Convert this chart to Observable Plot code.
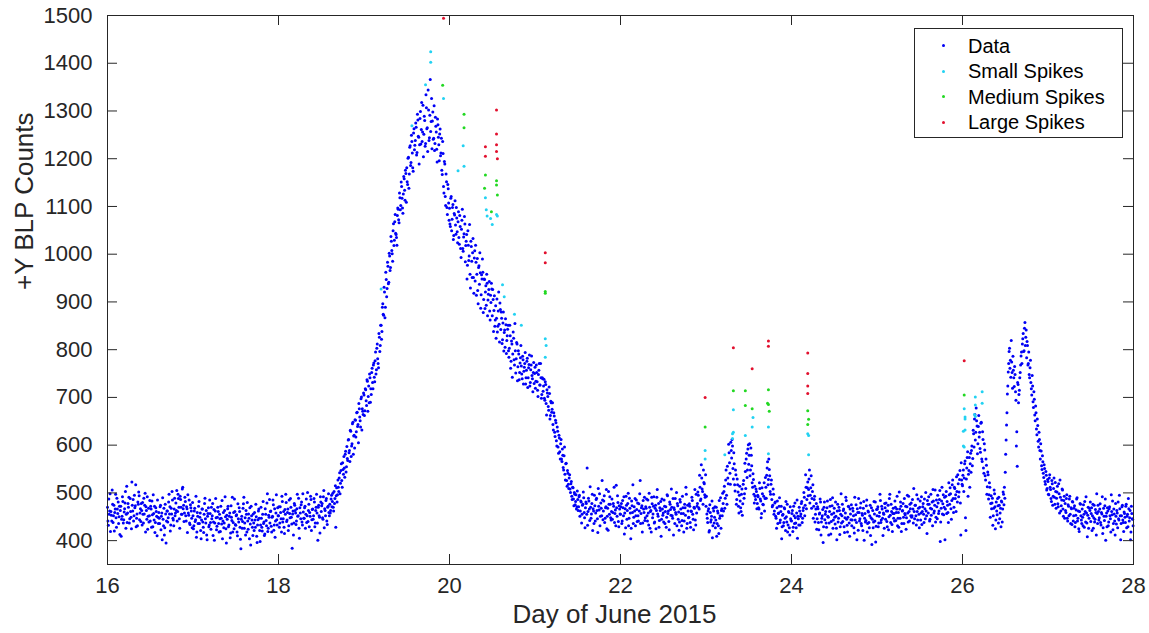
<!DOCTYPE html>
<html><head><meta charset="utf-8">
<script src="https://cdn.jsdelivr.net/npm/d3@7"></script>
<script src="https://cdn.jsdelivr.net/npm/@observablehq/plot@0.6"></script>
<style>
body{margin:0;background:#fff;}
#wrap{position:relative;width:1149px;height:633px;font-family:"Liberation Sans",Arial,Helvetica,sans-serif;}
#legend{position:absolute;left:914px;top:28px;width:207px;height:108px;border:1px solid #262626;background:#fff;color:#000;font-size:20px;}
.item{position:absolute;left:0;height:24px;line-height:24px;white-space:nowrap;}
.item .m{position:absolute;left:27px;top:10.5px;width:3px;height:3px;border-radius:50%;}
.item .t{position:absolute;left:53px;top:0;}
</style></head><body><div id="wrap"></div>
<script>
// ---- series names / colours / ticks ----
const seriesNames = ["Data", "Small Spikes", "Medium Spikes", "Large Spikes"];
const seriesColors = ["#0000f5", "#22d2f2", "#22d822", "#e2102e"];
const xTicks = [16, 18, 20, 22, 24, 26, 28];
const yTicks = [400, 500, 600, 700, 800, 900, 1000, 1100, 1200, 1300, 1400, 1500];
const xTitle = "Day of June 2015";
const yTitle = "+Y BLP Counts";

// ---- +Y BLP counts, two interleaved sample runs of 100 per day ----
const day16 = [470,432,455,498,461,441,476,452,420,466, 448,489,457,436,472,463,409,451,482,444,
  467,503,455,438,478,491,446,461,425,474, 486,452,469,517,447,431,476,494,458,440,
  463,480,437,456,499,471,445,424,468,452, 441,466,483,429,457,472,438,461,410,449,
  459,436,474,451,402,445,468,427,456,441, 462,448,497,471,433,456,485,443,466,452,
  479,505,461,488,446,493,470,455,512,474, 458,482,441,467,496,453,437,475,462,427];
const day16b = [441,487,462,419,453,506,438,474,459,497, 428,466,481,450,413,472,445,492,437,460,
  479,426,514,458,470,437,488,449,523,462, 441,495,473,429,456,481,502,444,467,478,
  433,455,489,474,418,463,492,451,439,484, 472,428,454,496,443,417,469,451,485,436,
  447,471,423,458,490,431,412,476,395,462, 439,481,456,420,468,503,447,431,489,458,
  463,441,497,470,426,486,455,508,467,440, 491,452,471,417,458,485,434,469,447,480];
const day17 = [452,431,468,444,407,459,436,482,449,421, 443,466,428,455,489,437,412,451,469,433,
  457,424,446,478,439,401,462,448,430,470, 436,455,419,447,484,441,427,463,450,395,
  445,472,433,458,416,449,491,438,425,461, 432,454,410,446,469,428,383,451,440,477,
  426,448,463,418,441,456,404,435,472,443, 411,437,459,428,450,396,444,466,421,433,
  447,420,482,439,414,455,431,498,426,449, 437,462,418,451,475,433,407,458,444,469];
const day17b = [425,462,440,493,418,451,472,436,458,404, 466,439,417,478,446,463,402,457,429,485,
  438,470,452,411,465,437,488,423,449,461, 418,446,472,435,404,459,437,492,425,453,
  467,429,451,406,473,442,418,459,487,434, 452,418,477,439,461,403,445,426,468,491,
  437,412,455,480,424,447,469,391,452,428, 456,421,443,476,409,433,462,447,398,470,
  428,455,436,411,467,442,479,419,453,486, 461,430,449,485,422,467,441,496,433,452];
const day18 = [452,428,471,446,493,439,461,415,455,480, 443,466,431,457,488,449,384,462,437,474,
  458,441,497,452,426,469,446,481,433,460, 447,472,455,438,501,463,429,451,486,444,
  466,452,481,437,470,458,401,474,449,492, 461,478,445,505,467,452,488,434,472,459,
  476,463,495,482,470,503,488,428,511,496, 512,531,498,547,526,563,539,552,581,544,
  597,568,612,589,631,576,603,648,619,594, 652,628,669,643,687,659,638,701,676,664];
const day18b = [471,437,459,418,482,446,428,465,497,440, 459,421,485,448,470,435,456,412,478,463,
  434,467,451,489,405,458,475,439,498,447, 469,426,487,452,440,476,459,493,421,465,
  445,488,429,463,497,437,470,452,416,481, 473,448,492,427,463,484,441,470,498,452,
  458,487,471,499,462,478,515,494,481,527, 503,542,520,561,512,549,576,533,587,555,
  572,611,584,566,629,598,645,581,621,653, 617,668,639,605,676,651,697,632,671,709];
const day19 = [705,672,716,683,734,702,689,741,718,752, 731,768,742,777,749,803,781,762,826,809,
  851,838,896,872,921,889,947,928,975,941, 996,972,1027,1001,1049,1018,1068,1044,1035,1081,
  1094,1066,1118,1102,1142,1097,1126,1158,1113,1169, 1181,1146,1203,1168,1227,1192,1236,1181,1254,1219,
  1238,1266,1213,1281,1245,1229,1299,1261,1236,1312, 1251,1280,1232,1307,1265,1344,1238,1291,1257,1326,
  1279,1241,1311,1232,1268,1220,1283,1245,1196,1262, 1212,1176,1236,1142,1194,1121,1168,1098,1146,1107];
const day19b = [662,718,693,737,671,724,749,690,706,761, 718,772,733,795,758,812,771,834,796,851,
  822,889,874,931,867,962,911,983,938,1002, 966,1037,1008,985,1064,1029,1083,1041,1019,1097,
  1072,1128,1093,1151,1117,1086,1163,1134,1176,1109, 1152,1201,1138,1224,1186,1249,1212,1174,1263,1228,
  1275,1208,1293,1247,1189,1284,1231,1318,1256,1204, 1289,1226,1334,1263,1215,1302,1244,1366,1278,1221,
  1298,1243,1217,1287,1256,1193,1271,1229,1252,1206, 1243,1167,1211,1128,1189,1102,1152,1083,1137,1071];
const day20 = [1096,1058,1121,1073,1104,1039,1082,1061,1098,1047, 1068,1035,1081,1012,1052,1094,1006,1043,1063,1018,
  1041,977,1019,996,958,1027,985,1003,951,992, 944,983,958,924,972,937,961,915,948,962,
  905,947,921,893,939,904,926,881,914,939, 871,905,882,849,892,866,837,881,853,898,
  842,866,821,879,836,805,852,819,843,798, 803,829,776,812,791,824,768,798,781,812,
  764,791,752,783,766,739,779,755,771,728, 757,782,741,769,724,758,787,739,752,729];
const day20b = [1063,1117,1049,1098,1031,1085,1112,1042,1076,1024, 1089,1021,1058,993,1071,1012,1036,1079,984,1027,
  948,1049,987,1062,929,1016,951,1033,918,1007, 1019,914,991,896,976,1003,887,957,990,878,
  948,886,934,958,871,916,943,862,899,927, 926,838,913,862,824,906,849,921,816,884,
  879,813,856,797,841,865,792,829,851,784, 851,761,818,742,837,779,855,751,815,735,
  798,737,772,809,749,786,728,763,794,741, 776,721,762,789,731,768,746,712,773,750];
const day21 = [763,734,752,715,748,771,726,741,706,739, 724,698,733,687,716,702,673,708,662,689,
  675,643,668,627,652,609,638,596,621,586, 603,571,592,553,578,539,561,526,547,518,
  531,508,519,493,512,487,501,475,496,471, 486,471,495,462,481,455,476,490,448,469,
  478,552,461,483,442,470,456,497,467,436, 473,458,489,446,509,464,431,479,452,485,
  462,494,447,471,425,468,503,455,476,443, 487,459,472,438,464,516,451,480,429,466];
const day21b = [719,768,733,702,757,726,771,698,741,713, 738,694,727,663,709,681,722,655,692,669,
  689,632,661,618,647,598,629,583,615,571, 612,566,579,548,596,527,562,514,541,509,
  538,501,524,486,511,473,497,482,466,504, 463,492,451,483,437,474,502,459,427,481,
  455,432,489,466,513,447,478,421,462,495, 441,486,463,417,472,498,451,468,526,444,
  483,438,469,507,451,422,476,492,448,461, 445,478,512,457,431,469,494,440,473,456];
const day22 = [455,478,441,469,492,458,427,474,463,499, 447,468,404,483,459,436,471,488,452,465,
  479,441,462,526,457,473,437,466,491,448, 468,452,485,433,470,461,418,477,456,492,
  439,474,463,507,451,428,469,482,445,466, 458,485,436,471,449,494,462,423,476,453,
  470,447,412,465,488,455,431,473,460,439, 481,457,442,469,418,476,453,497,436,462,
  449,472,428,461,484,445,470,507,433,458, 478,495,466,512,487,531,503,548,519,491];
const day22b = [471,436,484,452,414,467,493,445,478,431, 489,458,426,473,517,449,462,431,485,440,
  452,477,498,436,469,418,484,459,442,471, 487,441,458,499,426,463,491,448,472,437,
  468,425,491,456,478,442,463,409,487,453, 439,472,461,428,496,457,440,481,465,508,
  452,488,469,436,459,501,478,445,422,486, 466,431,493,457,441,469,512,426,474,448,
  477,438,462,491,455,423,468,443,497,472, 502,469,537,484,559,508,476,522,496,538];
const day23 = [472,456,438,467,421,459,444,483,431,462, 449,427,470,436,458,415,447,490,463,452,
  478,503,468,527,495,556,519,584,541,606, 573,598,529,561,504,538,486,517,472,495,
  483,461,508,477,526,498,545,571,532,592, 560,603,548,579,521,540,497,514,486,503,
  478,492,466,509,483,457,498,475,521,488, 512,537,565,528,549,503,518,486,474,497,
  462,481,447,469,436,458,490,443,472,429, 455,438,467,421,450,476,433,459,412,446];
const day23b = [493,447,462,418,475,439,451,406,468,437, 471,443,409,462,431,484,452,426,467,499,
  462,514,489,548,476,531,602,563,518,589, 612,551,584,517,548,476,529,502,458,514,
  469,497,453,518,489,562,509,583,548,601, 579,536,594,557,512,528,479,493,508,467,
  495,469,521,487,448,511,476,493,462,532, 489,552,517,571,536,497,527,471,508,455,
  479,451,426,483,457,472,438,461,404,453, 431,469,447,482,439,418,461,427,471,442];
const day24 = [441,463,428,452,479,437,458,405,446,470, 433,456,482,447,469,491,474,512,486,523,
  507,548,495,536,488,517,472,493,455,478, 446,467,423,458,481,439,452,396,470,444,
  461,428,483,449,437,472,414,455,490,443, 468,435,451,402,476,447,463,429,498,452,
  440,466,417,458,484,432,449,471,409,456, 475,443,462,427,491,454,438,467,422,459,
  446,479,431,453,468,401,457,442,485,436, 460,427,474,448,392,463,439,456,481,430];
const day24b = [457,419,472,436,448,427,485,451,433,462, 451,478,438,463,501,452,538,467,511,494,
  529,479,511,468,503,447,486,439,466,424, 471,438,456,487,412,447,465,429,481,455,
  437,469,451,412,461,486,440,473,426,458, 449,481,426,462,439,470,413,455,437,476,
  463,429,448,491,445,418,472,437,466,444, 431,468,452,416,443,475,402,459,488,441,
  469,436,457,421,482,447,439,473,418,462, 438,452,411,469,445,427,482,441,397,465];
const day25 = [452,471,437,459,484,443,466,411,455,478, 445,462,429,474,450,497,438,461,419,468,
  457,483,442,466,431,459,502,447,472,436, 463,449,488,454,424,471,458,493,441,467,
  479,452,466,509,446,474,433,461,487,455, 470,443,492,461,478,438,467,501,452,484,
  458,476,445,497,466,431,483,462,506,449, 471,495,457,486,398,468,512,477,454,491,
  466,503,482,459,521,476,498,445,517,488, 470,509,496,534,481,519,502,547,412,527];
const day25b = [466,429,451,497,438,472,447,458,426,469, 479,440,462,423,488,453,476,434,457,447,
  441,470,459,493,447,428,466,481,419,462, 478,436,457,472,448,495,439,461,476,452,
  449,486,437,461,474,452,496,443,468,427, 483,458,434,471,455,487,446,462,415,476,
  492,441,468,453,481,507,458,474,439,485, 446,479,462,505,439,483,456,496,470,402,
  493,457,474,438,496,511,467,484,527,459, 512,488,461,503,538,492,528,479,563,518];
const day26 = [515,548,531,567,421,552,586,539,574,561, 543,598,572,624,655,611,678,640,603,662,
  627,585,648,566,612,541,590,527,558,513, 538,496,512,478,467,489,452,506,471,443,
  462,488,437,474,458,429,481,466,497,512, 543,611,668,724,771,803,778,819,752,786,
  741,765,712,598,556,727,706,741,768,795, 812,834,798,857,826,783,809,771,748,762,
  731,705,724,679,696,651,668,622,641,596, 612,571,588,549,565,532,551,518,537,509];
const day26b = [537,503,561,448,529,574,493,547,512,583, 589,557,631,596,664,627,651,582,639,617,
  593,646,571,628,552,603,536,571,497,544, 487,521,449,494,479,432,468,498,425,481,
  454,473,491,446,468,483,439,502,475,489, 581,642,707,753,796,761,742,774,719,757,
  723,748,694,628,731,689,715,752,787,771, 823,796,845,809,841,817,768,795,741,778,
  718,746,691,712,663,682,634,655,608,627, 589,603,557,578,541,559,524,545,506,528];
const day27 = [524,496,538,507,482,519,493,531,476,503, 489,514,471,498,527,462,485,506,451,493,
  478,459,496,441,472,487,455,469,434,481, 452,473,438,464,490,447,425,461,476,443,
  466,431,455,482,439,458,408,470,447,463, 440,469,452,426,474,445,459,498,436,461,
  448,477,433,456,415,468,442,487,451,429, 462,439,471,446,496,454,423,466,441,478,
  435,458,481,443,467,402,452,474,438,460, 449,472,427,455,488,441,463,418,457,445];
const day27b = [497,531,512,488,526,474,509,491,522,468, 502,477,519,458,491,473,508,466,484,447,
  463,488,447,475,452,493,436,467,482,441, 468,429,453,487,441,462,419,478,452,436,
  449,475,428,461,492,437,453,426,468,481, 457,421,476,448,439,465,412,457,474,443,
  466,438,459,492,427,451,473,401,458,469, 431,467,452,418,461,483,436,456,412,451,
  463,427,446,495,452,436,471,443,419,457, 438,476,451,429,467,448,402,472,446,431];
const dayBlocks = [[16, day16, day16b], [17, day17, day17b], [18, day18, day18b], [19, day19, day19b],
  [20, day20, day20b], [21, day21, day21b], [22, day22, day22b], [23, day23, day23b],
  [24, day24, day24b], [25, day25, day25b], [26, day26, day26b], [27, day27, day27b]];

// ---- flagged spikes: [day, counts] ----
const smallSpikes = [[19.20,927],[19.56,1269],[19.72,1355],[19.78,1424],[19.78,1402],[19.93,1326],
  [20.10,1175],[20.16,1227],[20.17,1184],[20.42,1118],[20.43,1093],[20.44,1080],[20.48,1075],[20.50,1062],
  [20.55,1083],[20.56,1080],[20.62,936],[20.64,911],[20.76,874],[20.84,851],[21.12,823],[21.13,809],[21.12,784],
  [22.99,589],[22.99,571],[23.22,580],[23.32,674],[23.32,627],[23.31,624],[23.31,614],[23.46,620],[23.55,658],
  [23.54,638],[23.73,638],[23.73,582],[24.19,624],[24.20,620],[24.20,580],
  [26.02,676],[26.03,659],[26.03,655],[26.01,629],[26.03,632],[26.01,598],[26.02,596],
  [26.15,701],[26.15,684],[26.14,664],[26.15,660],[26.23,712],[26.23,688]];
const mediumSpikes = [[19.92,1354],[20.17,1293],[20.17,1265],[20.42,1166],[20.41,1138],[20.49,1089],
  [20.55,1154],[20.55,1145],[20.56,1124],[21.12,922],[21.12,918],[22.99,638],[23.32,714],[23.46,714],
  [23.46,683],[23.54,676],[23.73,716],[23.72,688],[23.73,685],[23.74,671],[24.19,672],[24.20,654],
  [24.19,643],[26.02,705]];
const largeSpikes = [[19.93,1494],[20.42,1225],[20.42,1205],[20.55,1302],[20.55,1252],[20.55,1229],
  [20.55,1215],[20.56,1200],[21.12,1003],[21.12,982],[22.99,700],[23.32,804],[23.54,760],[23.73,818],
  [23.73,807],[24.19,793],[24.19,750],[24.19,724],[24.19,708],[26.02,777]];

// ---- build tables ----
const data = dayBlocks.flatMap(([d, a, b]) => [
  ...a.map((v, i) => ({day: d + i / a.length, count: v})),
  ...b.map((v, i) => ({day: d + (i + 0.5) / b.length, count: v}))
]);
const rows = arr => arr.map(([day, count]) => ({day, count}));
const ink = "#262626";
const dotOpts = c => ({x: "day", y: "count", r: 1.5, fill: c, stroke: null});

const chart = Plot.plot({
  width: 1149, height: 633,
  marginTop: 15, marginRight: 16, marginBottom: 69, marginLeft: 107,
  style: {fontFamily: "'Liberation Sans', Arial, sans-serif", fontSize: "22px", color: ink, background: "white"},
  x: {domain: [16, 28]},
  y: {domain: [350, 1500]},
  marks: [
    Plot.dot(data, dotOpts(seriesColors[0])),
    Plot.dot(rows(smallSpikes), dotOpts(seriesColors[1])),
    Plot.dot(rows(mediumSpikes), dotOpts(seriesColors[2])),
    Plot.dot(rows(largeSpikes), dotOpts(seriesColors[3])),
    Plot.frame({stroke: ink}),
    Plot.tickX(xTicks, {x: d => d, stroke: ink, insetTop: 539}),
    Plot.tickX(xTicks, {x: d => d, stroke: ink, insetBottom: 539}),
    Plot.tickY(yTicks, {y: d => d, stroke: ink, insetRight: 1016}),
    Plot.tickY(yTicks, {y: d => d, stroke: ink, insetLeft: 1016}),
    Plot.axisX({ticks: xTicks, tickSize: 0, tickPadding: 13, tickFormat: d => String(d), label: null, fill: ink}),
    Plot.axisY({ticks: yTicks, tickSize: 0, tickPadding: 15, tickFormat: d => String(d), label: null, fill: ink}),
    Plot.text([xTitle], {text: d => d, frameAnchor: "bottom", dy: 58, dx: -6, fontSize: 26, fill: ink}),
    Plot.text([yTitle], {text: d => d, frameAnchor: "left", dx: -83, rotate: -90, fontSize: 26, fill: ink})
  ]
});

const wrap = document.getElementById("wrap");
wrap.appendChild(chart);

// legend (HTML overlay inside the axes box)
const legend = document.createElement("div");
legend.id = "legend";
const rowCenters = [16.7, 42, 67.7, 93.3];
seriesNames.forEach((name, i) => {
  const it = document.createElement("div");
  it.className = "item";
  it.style.top = (rowCenters[i] - 12) + "px";
  const m = document.createElement("span");
  m.className = "m";
  m.style.background = seriesColors[i];
  const t = document.createElement("span");
  t.className = "t";
  t.textContent = name;
  it.appendChild(m); it.appendChild(t);
  legend.appendChild(it);
});
wrap.appendChild(legend);
</script></body></html>
